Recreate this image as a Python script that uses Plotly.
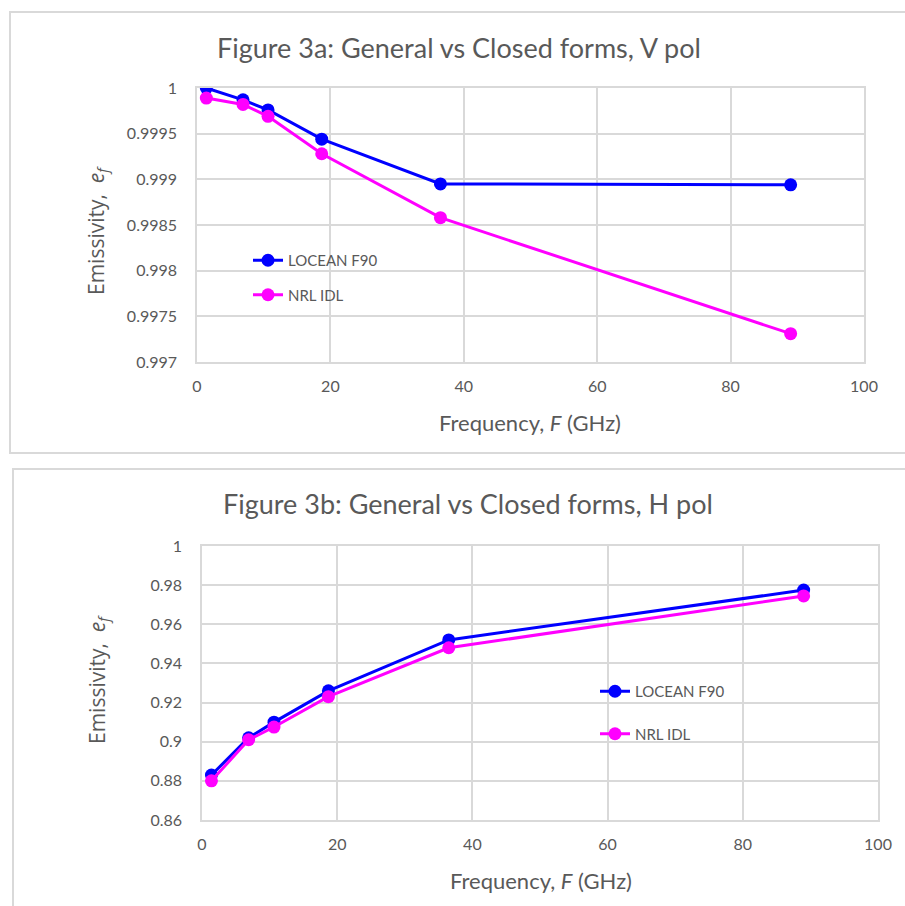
import plotly.graph_objects as go

freq = [1.4, 6.9, 10.65, 18.7, 36.5, 89.0]

v_locean = [1.0000, 0.99987, 0.99976, 0.99944, 0.99895, 0.99894]
v_nrl = [0.99989, 0.99982, 0.99969, 0.99928, 0.99858, 0.99731]

h_locean = [0.883, 0.902, 0.910, 0.926, 0.952, 0.9775]
h_nrl = [0.880, 0.901, 0.9075, 0.923, 0.948, 0.9745]

series_names = ["LOCEAN F90", "NRL IDL"]
colors = ["#0000FF", "#FF00FF"]

titles = ["Figure 3a: General vs Closed forms, V pol",
          "Figure 3b: General vs Closed forms, H pol"]

W, H = 905, 906
FONT = "Lato"
GREY = "#595959"
GRID = "#d9d9d9"

fig = go.Figure()

for i, (name, ys) in enumerate(zip(series_names, [v_locean, v_nrl])):
    fig.add_trace(go.Scatter(x=freq, y=ys, name=name, mode="lines+markers",
                             line=dict(color=colors[i], width=3),
                             marker=dict(color=colors[i], size=13),
                             xaxis="x", yaxis="y", legend="legend",
                             legendgroup="a%d" % i))
for i, (name, ys) in enumerate(zip(series_names, [h_locean, h_nrl])):
    fig.add_trace(go.Scatter(x=freq, y=ys, name=name, mode="lines+markers",
                             line=dict(color=colors[i], width=3),
                             marker=dict(color=colors[i], size=13),
                             xaxis="x2", yaxis="y2", legend="legend2",
                             legendgroup="b%d" % i))

def px(x):
    return x / W

def py(y):
    return (H - y) / H

axis_common = dict(showgrid=True, gridcolor=GRID, gridwidth=1.5,
                   showline=True, linecolor=GRID, linewidth=1.5, mirror=True,
                   zeroline=False, ticks="", automargin=False,
                   tickfont=dict(family=FONT, size=16, color=GREY))

fig.update_layout(
    width=W, height=H,
    margin=dict(l=0, r=0, t=0, b=0, pad=0, autoexpand=False),
    paper_bgcolor="white", plot_bgcolor="white",
    xaxis=dict(domain=[px(197), px(864)], range=[0, 100], dtick=20,
               anchor="y", ticklabelstandoff=9, **axis_common),
    yaxis=dict(domain=[py(362), py(88)], range=[0.997, 1.0], dtick=0.0005,
               anchor="x", ticklabelstandoff=15, **axis_common),
    xaxis2=dict(domain=[px(202), px(878)], range=[0, 100], dtick=20,
                anchor="y2", ticklabelstandoff=9, **axis_common),
    yaxis2=dict(domain=[py(820), py(546)], range=[0.86, 1.0], dtick=0.02,
                anchor="x2", ticklabelstandoff=15, **axis_common),
    legend=dict(x=px(248), y=py(244), xanchor="left", yanchor="top",
                bgcolor="rgba(0,0,0,0)", tracegroupgap=12,
                font=dict(family=FONT, size=15, color=GREY)),
    legend2=dict(x=px(595), y=py(675), xanchor="left", yanchor="top",
                 bgcolor="rgba(0,0,0,0)", tracegroupgap=20,
                 font=dict(family=FONT, size=15, color=GREY)),
    showlegend=True,
)

# chart boxes
fig.add_shape(type="rect", xref="paper", yref="paper",
              x0=px(10), x1=px(915), y0=py(453), y1=py(12),
              line=dict(color=GRID, width=2), layer="below")
fig.add_shape(type="rect", xref="paper", yref="paper",
              x0=px(13), x1=px(915), y0=py(916), y1=py(469),
              line=dict(color=GRID, width=2), layer="below")

def note(text, x, y, size, angle=0, family=FONT):
    return dict(text=text, x=px(x), y=py(y), xref="paper", yref="paper",
                xanchor="center", yanchor="middle", textangle=angle,
                showarrow=False, font=dict(family=family, size=size, color=GREY))

xt = "Frequency, <i>F</i> (GHz)"
yt = "Emissivity,  <i>e<sub>f</sub></i>"
ann = [
    note(titles[0], 459, 47, 27),
    note(titles[1], 468, 503, 27),
    note(xt, 530, 422, 22),
    note(xt, 541, 880, 22),
    note(yt, 97, 231, 21, -90, "Open Sans"),
    note(yt, 98, 680, 21, -90, "Open Sans"),
]
fig.update_layout(annotations=ann)

fig.write_html("out.html")
